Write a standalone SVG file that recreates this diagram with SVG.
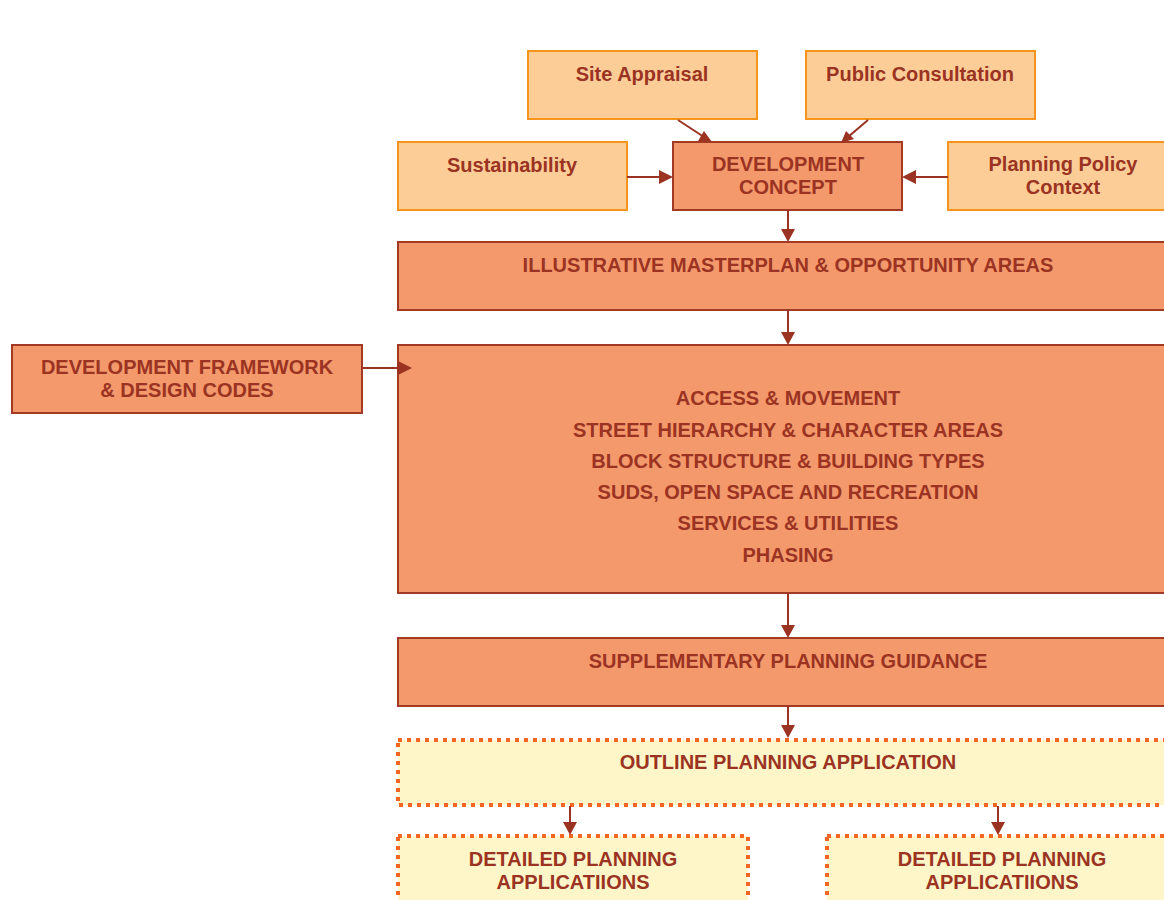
<svg xmlns="http://www.w3.org/2000/svg" width="1164" height="900" viewBox="0 0 1164 900">
<defs>
<style>
.light{fill:#FDCD98;stroke:#F7941D;stroke-width:2}
.dark{fill:#F4996C;stroke:#A23A26;stroke-width:2}
.dot{fill:#FEF6C9;stroke:#F26522;stroke-width:4;stroke-dasharray:4 5}
text{font-family:"Liberation Sans",Arial,sans-serif;font-weight:bold;font-size:20px;fill:#9B3322;text-anchor:middle}
.ln{stroke:#9B3322;stroke-width:2;fill:none}
.hd{fill:#9B3322}
</style>
</defs>
<rect width="1164" height="900" fill="#ffffff"/>
<g id="site-appraisal">
<rect class="light" x="528" y="51" width="229" height="68"/>
<text x="642" y="81">Site Appraisal</text>
</g>
<g id="public-consultation">
<rect class="light" x="806" y="51" width="229" height="68"/>
<text x="920" y="81">Public Consultation</text>
</g>
<g id="sustainability">
<rect class="light" x="398" y="142" width="229" height="68"/>
<text x="512" y="172">Sustainability</text>
</g>
<g id="development-concept">
<rect class="dark" x="673" y="142" width="229" height="68"/>
<text x="788" y="171">DEVELOPMENT</text>
<text x="788" y="194">CONCEPT</text>
</g>
<g id="planning-policy">
<rect class="light" x="948" y="142" width="230" height="68"/>
<text x="1063" y="171">Planning Policy</text>
<text x="1063" y="194">Context</text>
</g>
<g id="illustrative-masterplan">
<rect class="dark" x="398" y="242" width="780" height="68"/>
<text x="788" y="272">ILLUSTRATIVE MASTERPLAN &amp; OPPORTUNITY AREAS</text>
</g>
<g id="development-framework">
<rect class="dark" x="12" y="345" width="350" height="68"/>
<text x="187" y="374">DEVELOPMENT FRAMEWORK</text>
<text x="187" y="397">&amp; DESIGN CODES</text>
</g>
<g id="framework-contents">
<rect class="dark" x="398" y="345" width="780" height="248"/>
<text x="788" y="405">ACCESS &amp; MOVEMENT</text>
<text x="788" y="437">STREET HIERARCHY &amp; CHARACTER AREAS</text>
<text x="788" y="468">BLOCK STRUCTURE &amp; BUILDING TYPES</text>
<text x="788" y="499">SUDS, OPEN SPACE AND RECREATION</text>
<text x="788" y="530">SERVICES &amp; UTILITIES</text>
<text x="788" y="562">PHASING</text>
</g>
<g id="supplementary">
<rect class="dark" x="398" y="638" width="780" height="68"/>
<text x="788" y="668">SUPPLEMENTARY PLANNING GUIDANCE</text>
</g>
<g id="outline-application">
<rect class="dot" x="398" y="740" width="780" height="65"/>
<text x="788" y="769">OUTLINE PLANNING APPLICATION</text>
</g>
<g id="detailed-1">
<rect class="dot" x="398" y="836" width="350" height="80"/>
<text x="573" y="866">DETAILED PLANNING</text>
<text x="573" y="889">APPLICATIIONS</text>
</g>
<g id="detailed-2">
<rect class="dot" x="827" y="836" width="350" height="80"/>
<text x="1002" y="866">DETAILED PLANNING</text>
<text x="1002" y="889">APPLICATIIONS</text>
</g>
<g id="connectors">
<line class="ln" x1="678" y1="120" x2="704" y2="137"/>
<path class="hd" d="M712,142 l-14,-1 l6,-10 z"/>
<line class="ln" x1="868" y1="120" x2="848" y2="137"/>
<path class="hd" d="M841,143 l5,-12 l8,8 z"/>
<line class="ln" x1="627" y1="177" x2="660" y2="177"/>
<path class="hd" d="M673,177 l-14,-7 v14 z"/>
<line class="ln" x1="948" y1="177" x2="915" y2="177"/>
<path class="hd" d="M902,177 l14,-7 v14 z"/>
<line class="ln" x1="788" y1="210" x2="788" y2="230"/>
<path class="hd" d="M788,242 l-7,-13 h14 z"/>
<line class="ln" x1="788" y1="310" x2="788" y2="333"/>
<path class="hd" d="M788,345 l-7,-13 h14 z"/>
<line class="ln" x1="362" y1="368" x2="400" y2="368"/>
<path class="hd" d="M412,368 l-14,-7 v14 z"/>
<line class="ln" x1="788" y1="593" x2="788" y2="626"/>
<path class="hd" d="M788,638 l-7,-13 h14 z"/>
<line class="ln" x1="788" y1="706" x2="788" y2="726"/>
<path class="hd" d="M788,738 l-7,-13 h14 z"/>
<line class="ln" x1="570" y1="806" x2="570" y2="822"/>
<path class="hd" d="M570,835 l-7,-13 h14 z"/>
<line class="ln" x1="998" y1="806" x2="998" y2="822"/>
<path class="hd" d="M998,835 l-7,-13 h14 z"/>
</g>
</svg>
